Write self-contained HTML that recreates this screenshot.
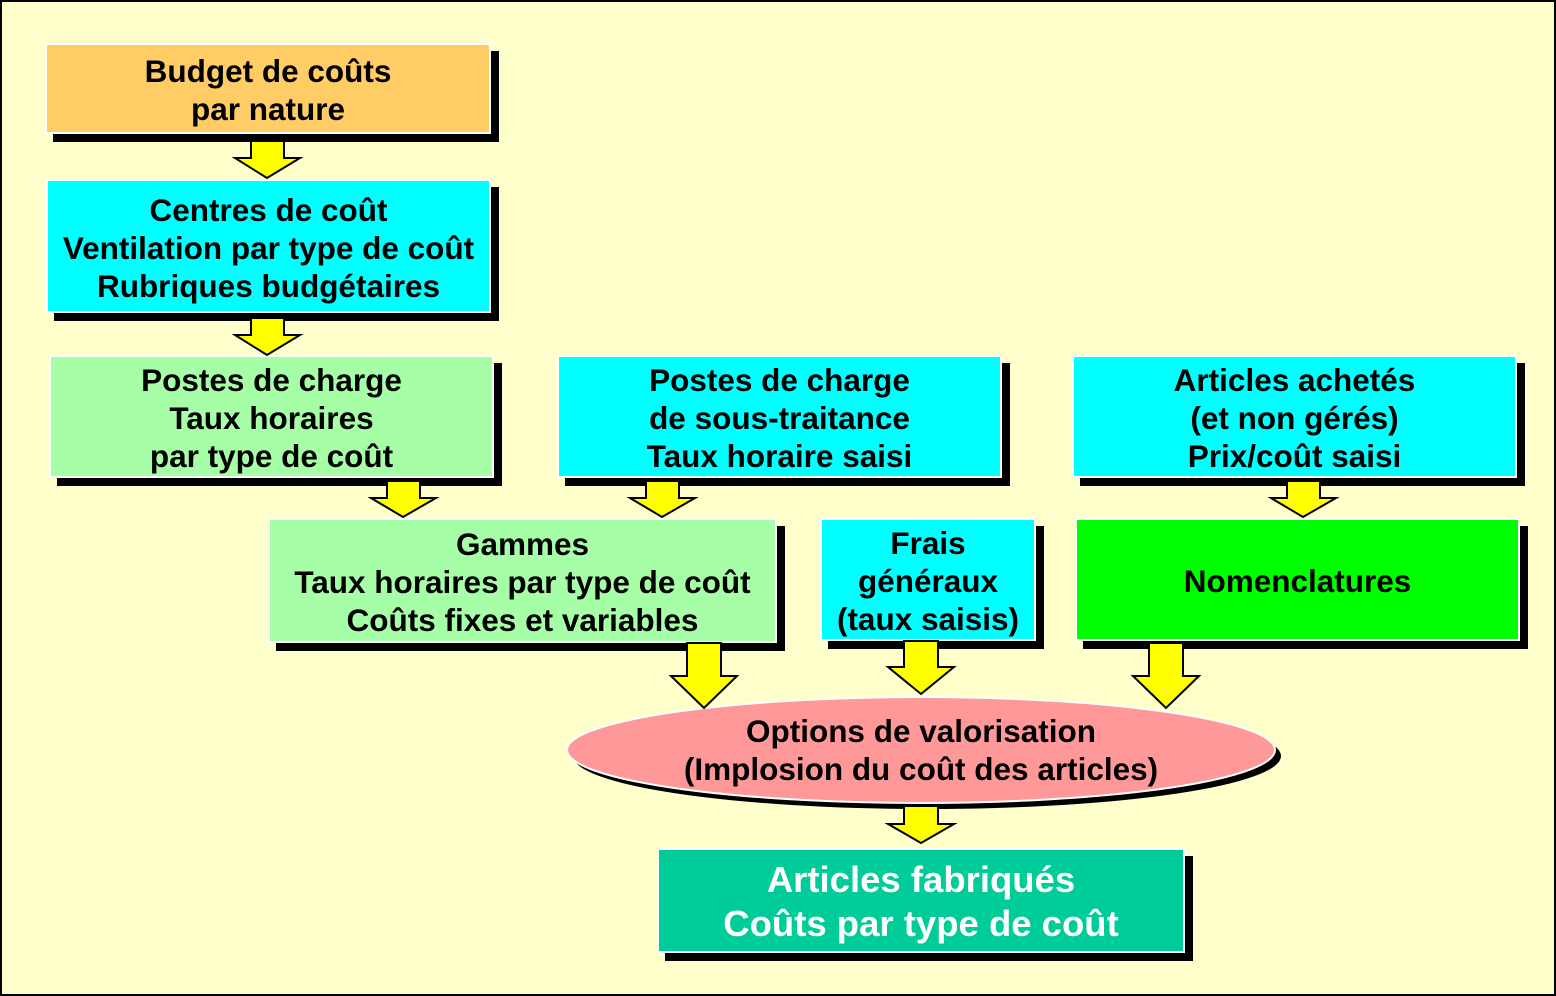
<!DOCTYPE html>
<html><head><meta charset="utf-8"><style>
body{margin:0;width:1556px;height:996px;overflow:hidden;background:#FFFFCC;}
#p{position:absolute;left:0;top:0;width:1552px;height:992px;border:2px solid #000;background:#FFFFCC;}
.b{position:absolute;box-sizing:border-box;border:2px solid #fff;box-shadow:8px 8px 0 #000;display:flex;align-items:center;justify-content:center;text-align:center;font:bold 31.5px/38px "Liberation Sans",sans-serif;color:#000;padding-top:3px;}
svg{position:absolute;left:0;top:0;}
</style></head><body><div id="p"></div>
<div class="b" style="left:45px;top:43px;width:446px;height:91px;background:#FFCC66">Budget de coûts<br>par nature</div>
<div class="b" style="left:46px;top:179px;width:445px;height:134px;background:#00FFFF">Centres de coût<br>Ventilation par type de coût<br>Rubriques budgétaires</div>
<div class="b" style="left:49px;top:355px;width:445px;height:123px;background:#A6FFA6">Postes de charge<br>Taux horaires<br>par type de coût</div>
<div class="b" style="left:557px;top:355px;width:445px;height:123px;background:#00FFFF">Postes de charge<br>de sous-traitance<br>Taux horaire saisi</div>
<div class="b" style="left:1072px;top:355px;width:445px;height:123px;background:#00FFFF">Articles achetés<br>(et non gérés)<br>Prix/coût saisi</div>
<div class="b" style="left:268px;top:518px;width:509px;height:125px;background:#A6FFA6">Gammes<br>Taux horaires par type de coût<br>Coûts fixes et variables</div>
<div class="b" style="left:820px;top:518px;width:216px;height:123px;background:#00FFFF">Frais<br>généraux<br>(taux saisis)</div>
<div class="b" style="left:1075px;top:518px;width:445px;height:123px;background:#00FF00">Nomenclatures</div>
<div class="b" style="left:657px;top:848px;width:528px;height:105px;background:#00CC99;color:#fff;font-size:36.5px;line-height:44px">Articles fabriqués<br>Coûts par type de coût</div>
<svg width="1556" height="996">
<ellipse cx="927" cy="756" rx="354" ry="53" fill="#000"/>
<ellipse cx="921" cy="750" rx="354" ry="53" fill="#FF9999" stroke="#fff" stroke-width="2"/>
<text x="921" y="742" text-anchor="middle" font-family="Liberation Sans" font-weight="bold" font-size="31.5">Options de valorisation</text>
<text x="921" y="780" text-anchor="middle" font-family="Liberation Sans" font-weight="bold" font-size="31.5">(Implosion du coût des articles)</text>
<g fill="#FFFF00" stroke="#000" stroke-width="2" stroke-linejoin="miter">
<path d="M251,141H284V158H300L267,178L235,158H251Z"/>
<path d="M251,318H284V335H300L267,355L235,335H251Z"/>
<path d="M387,481H420V498H436L403,517L371,498H387Z"/>
<path d="M646,481H679V498H695L662,517L630,498H646Z"/>
<path d="M1287,481H1320V498H1336L1303,517L1271,498H1287Z"/>
<path d="M687,643H721V676H737L704,708L671,676H687Z"/>
<path d="M904,641H938V667H954L921,694L888,667H904Z"/>
<path d="M1149,643H1183V676H1199L1166,708L1133,676H1149Z"/>
<path d="M904,806H938V824H954L921,843L888,824H904Z"/>
</g>
</svg>
</body></html>
